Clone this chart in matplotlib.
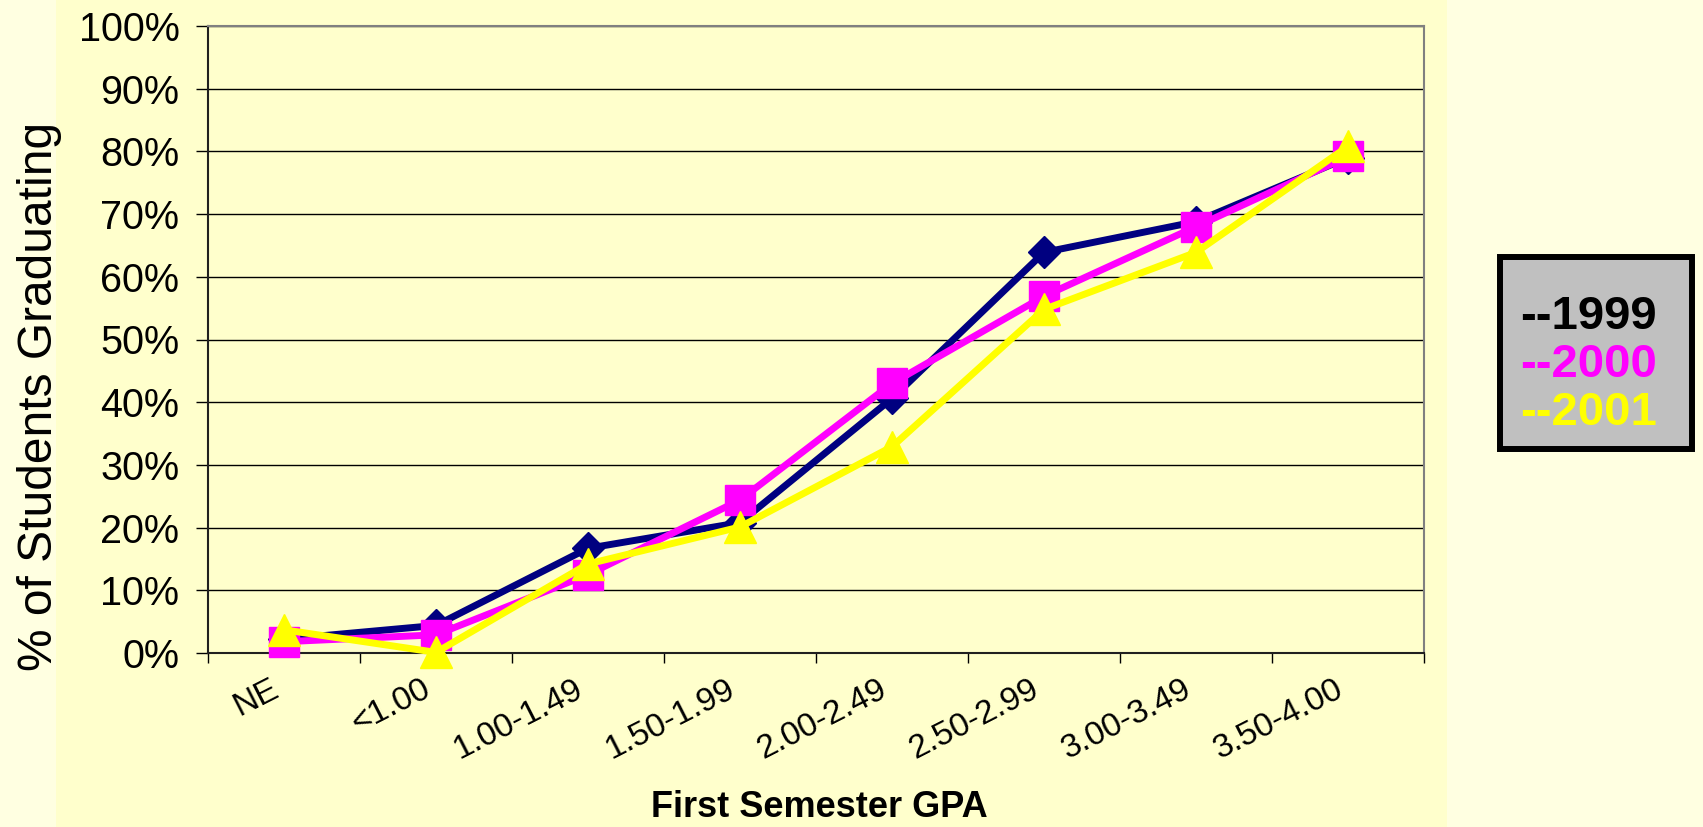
import matplotlib
matplotlib.use("Agg")
import matplotlib.pyplot as plt
import numpy as np
from matplotlib.patches import Rectangle

plt.rcParams['font.family'] = ['Liberation Sans', 'DejaVu Sans']

categories = ['NE', '<1.00', '1.00-1.49', '1.50-1.99', '2.00-2.49',
              '2.50-2.99', '3.00-3.49', '3.50-4.00']
grad_1999 = [2.2, 4.4, 16.7, 20.8, 40.6, 63.9, 68.8, 79.0]
grad_2000 = [1.8, 2.9, 12.5, 24.4, 43.0, 56.9, 68.0, 79.2]
grad_2001 = [3.7, 0.1, 14.2, 20.1, 32.9, 54.8, 63.9, 80.8]
series_names = ['1999', '2000', '2001']
y_ticks = list(range(0, 101, 10))

W, H = 1703, 827
fig = plt.figure(figsize=(W / 100, H / 100), dpi=100)
fig.patch.set_facecolor('#FFFFE1')

# darker chart-area band, kept behind the axes
fig.patches.append(Rectangle((56 / W, 0), (1447 - 56) / W, 1,
                             transform=fig.transFigure, facecolor='#FFFFCC',
                             edgecolor='none', zorder=-10))

ax = fig.add_axes([208 / W, 1 - 653 / H, (1424 - 208) / W, (653 - 26) / H])
ax.set_zorder(1)
ax.set_facecolor('#FFFFCC')

x = np.arange(len(categories))
styles = [
    (grad_1999, '#000080', 'D', 16.5),
    (grad_2000, '#FF00FF', 's', 21),
    (grad_2001, '#FFFF00', '^', 23),
]
for vals, col, mk, ms in styles:
    ax.plot(x, vals, color=col, lw=5, marker=mk, markersize=ms,
            markerfacecolor=col, markeredgecolor=col, clip_on=False, zorder=3)

ax.set_xlim(-0.5, len(categories) - 0.5)
ax.set_ylim(0, 100)

ax.set_yticks(y_ticks)
ax.set_yticklabels([f'{v}%' for v in y_ticks], fontsize=28.5)
ax.yaxis.grid(True, color='black', lw=1)
ax.set_axisbelow(True)
ax.tick_params(axis='y', length=8.6, width=1, pad=12, colors='black')

ax.set_xticks(np.arange(len(categories) + 1) - 0.5)
ax.set_xticklabels([])
ax.set_xticks(x, minor=True)
ax.set_xticklabels(categories, minor=True, fontsize=24, rotation=27, ha='right')
ax.tick_params(axis='x', which='major', length=7.2, width=1, colors='black')
ax.tick_params(axis='x', which='minor', length=0, pad=15)

for side in ['left', 'bottom']:
    ax.spines[side].set_color('#202020')
    ax.spines[side].set_linewidth(1.5)
for side in ['right', 'top']:
    ax.spines[side].set_color('#808080')
    ax.spines[side].set_linewidth(1.5)

fig.text(40 / W, 1 - 396 / H, '% of Students Graduating', rotation=90,
         ha='center', va='center', fontsize=34.5)
fig.text(819 / W, 1 - 817 / H, 'First Semester GPA', ha='center',
         va='baseline', fontsize=26, fontweight='bold')

# legend box
fig.patches.append(Rectangle((1500 / W, 1 - 449 / H), 192 / W, 192 / H,
                             transform=fig.transFigure, facecolor='#C0C0C0',
                             edgecolor='black', linewidth=4.3, zorder=2))
legend_colors = ['black', '#FF00FF', '#FFFF00']
for i, (name, col) in enumerate(zip(series_names, legend_colors)):
    fig.text(1520 / W, 1 - (329 + 48 * i) / H, '--' + name, color=col,
             fontsize=34, fontweight='bold', ha='left', va='baseline', zorder=3)

fig.savefig('out.png', dpi=100, facecolor=fig.get_facecolor())
